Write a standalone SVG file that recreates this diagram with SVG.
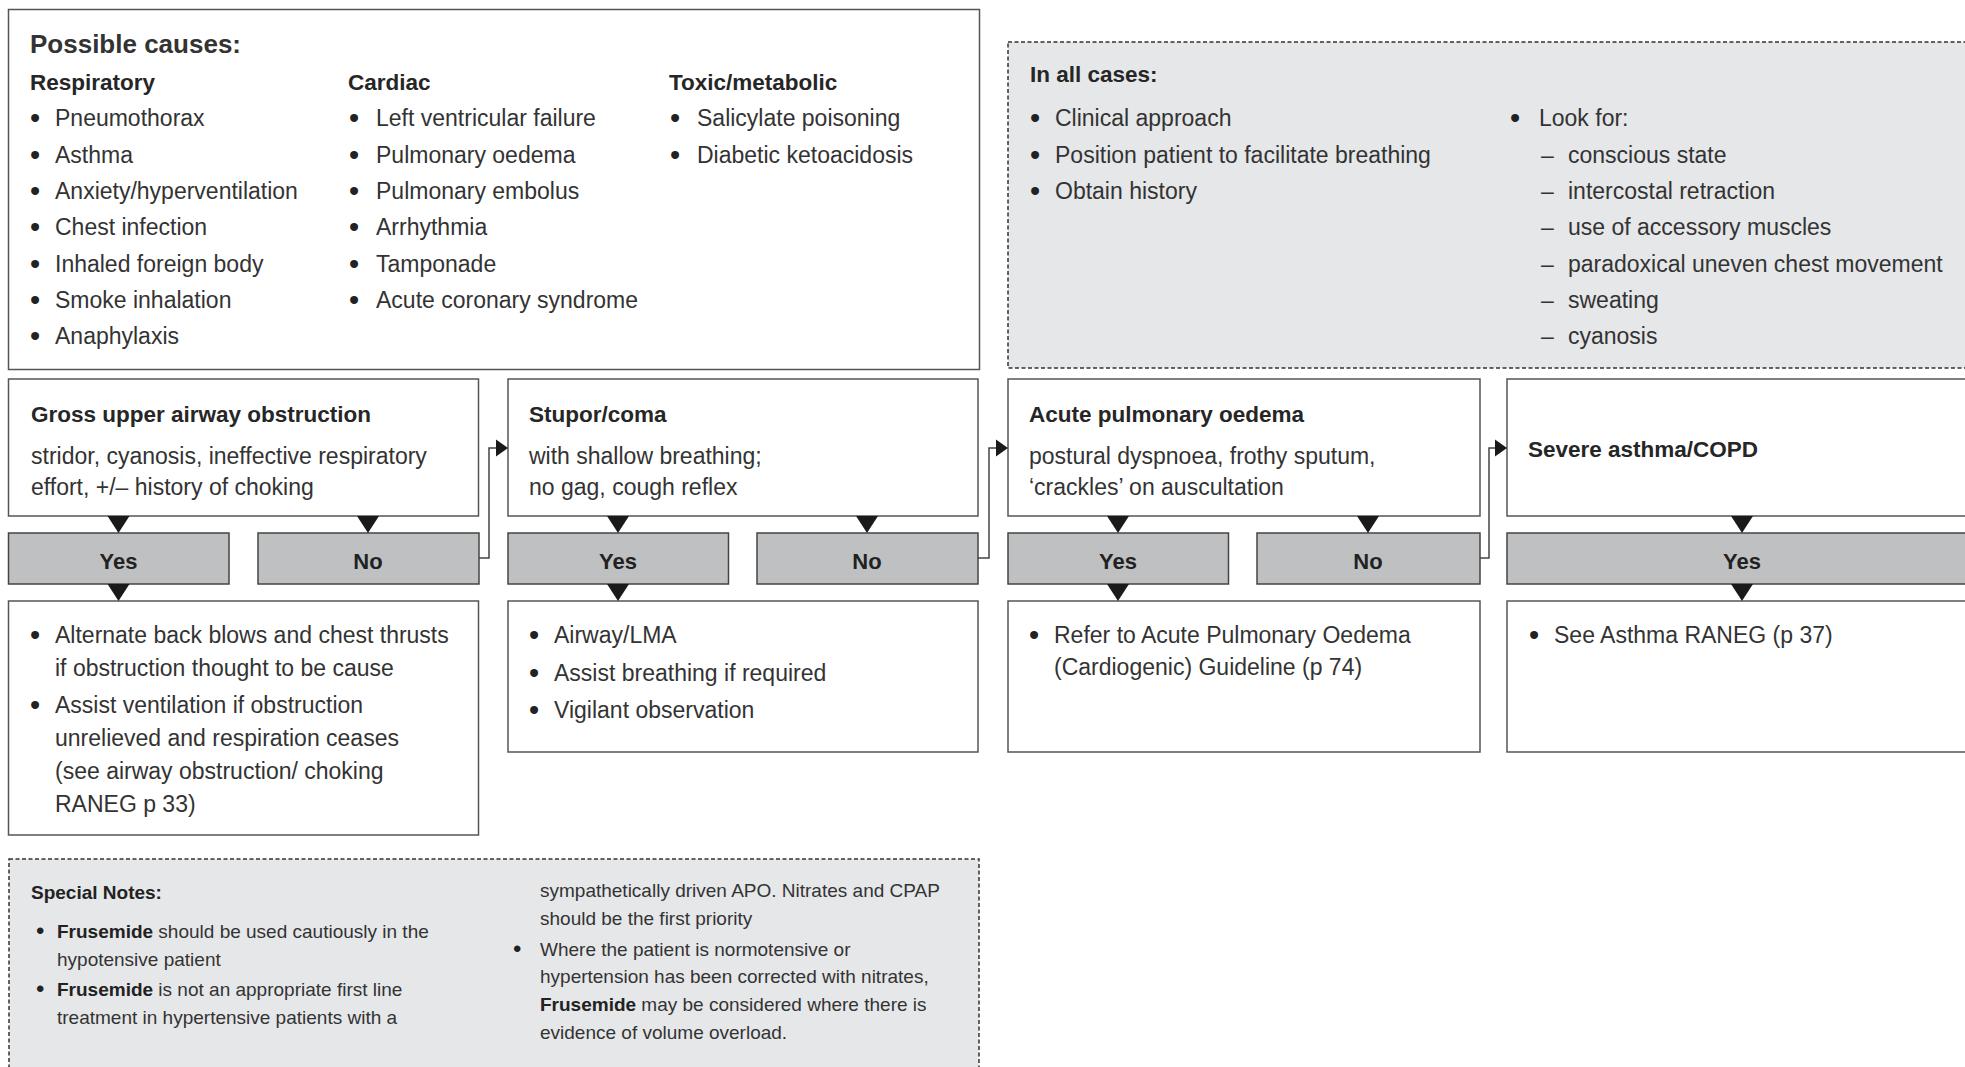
<svg xmlns="http://www.w3.org/2000/svg" xmlns:xlink="http://www.w3.org/1999/xlink" width="1965" height="1067" viewBox="0 0 1965 1067">
  <style>
    text { font-family: "Liberation Sans", Arial, Helvetica, sans-serif; fill: #333; }
    .box { fill: #ffffff; stroke: #555; stroke-width: 1.5; }
    .shade { fill: #e6e7e9; stroke: #333; stroke-width: 1.5; stroke-dasharray: 4 2.5; }
    .btn { fill: #bfc0c2; stroke: #444; stroke-width: 1.5; }
    .title { font-size: 26px; font-weight: bold; fill: #333; }
    .head { font-size: 22.5px; font-weight: bold; fill: #262626; }
    .body { font-size: 23px; }
    .bul { font-size: 29px; fill: #222; }
    .nbul { font-size: 24px; fill: #222; }
    .btnlabel { font-size: 22px; font-weight: bold; fill: #222; text-anchor: middle; }
    .note { font-size: 19px; }
    .notehead { font-size: 19px; font-weight: bold; fill: #222; }
    .conn { fill: none; stroke: #444; stroke-width: 1.5; }
    .arrow { fill: #1a1a1a; }
  </style>
  <defs>
    <path id="tri-down" d="M-11,0 L11,0 L0,17 Z"/>
    <path id="tri-right" d="M0,-8.5 L12,0 L0,8.5 Z"/>
  </defs>

  <rect width="1965" height="1067" fill="#ffffff"/>

  <!-- Possible causes -->
  <g id="causes">
    <rect class="box" x="8.5" y="9.5" width="971" height="360"/>
    <text class="title" x="30" y="53">Possible causes:</text>
    <text class="head" x="30" y="90">Respiratory</text>
    <text class="head" x="348" y="90">Cardiac</text>
    <text class="head" x="669" y="90">Toxic/metabolic</text>
    <text class="bul" x="30" y="128">•</text><text class="body" x="55" y="126">Pneumothorax</text>
    <text class="bul" x="30" y="164.5">•</text><text class="body" x="55" y="162.5">Asthma</text>
    <text class="bul" x="30" y="201">•</text><text class="body" x="55" y="199">Anxiety/hyperventilation</text>
    <text class="bul" x="30" y="237">•</text><text class="body" x="55" y="235">Chest infection</text>
    <text class="bul" x="30" y="274">•</text><text class="body" x="55" y="272">Inhaled foreign body</text>
    <text class="bul" x="30" y="310">•</text><text class="body" x="55" y="308">Smoke inhalation</text>
    <text class="bul" x="30" y="346">•</text><text class="body" x="55" y="344">Anaphylaxis</text>

    <text class="bul" x="349" y="128">•</text><text class="body" x="376" y="126">Left ventricular failure</text>
    <text class="bul" x="349" y="164.5">•</text><text class="body" x="376" y="162.5">Pulmonary oedema</text>
    <text class="bul" x="349" y="201">•</text><text class="body" x="376" y="199">Pulmonary embolus</text>
    <text class="bul" x="349" y="237">•</text><text class="body" x="376" y="235">Arrhythmia</text>
    <text class="bul" x="349" y="274">•</text><text class="body" x="376" y="272">Tamponade</text>
    <text class="bul" x="349" y="310">•</text><text class="body" x="376" y="308">Acute coronary syndrome</text>

    <text class="bul" x="670" y="128">•</text><text class="body" x="697" y="126">Salicylate poisoning</text>
    <text class="bul" x="670" y="164.5">•</text><text class="body" x="697" y="162.5">Diabetic ketoacidosis</text>
  </g>

  <!-- In all cases -->
  <g id="all-cases">
    <rect class="shade" x="1008" y="42" width="980" height="326"/>
    <text class="head" x="1030" y="82">In all cases:</text>
    <text class="bul" x="1030" y="128">•</text><text class="body" x="1055" y="126">Clinical approach</text>
    <text class="bul" x="1030" y="164.5">•</text><text class="body" x="1055" y="162.5">Position patient to facilitate breathing</text>
    <text class="bul" x="1030" y="201">•</text><text class="body" x="1055" y="199">Obtain history</text>
    <text class="bul" x="1510" y="128">•</text><text class="body" x="1539" y="126">Look for:</text>
    <text class="body" x="1541" y="162.5">–</text><text class="body" x="1568" y="162.5">conscious state</text>
    <text class="body" x="1541" y="199">–</text><text class="body" x="1568" y="199">intercostal retraction</text>
    <text class="body" x="1541" y="235">–</text><text class="body" x="1568" y="235">use of accessory muscles</text>
    <text class="body" x="1541" y="272">–</text><text class="body" x="1568" y="272">paradoxical uneven chest movement</text>
    <text class="body" x="1541" y="308">–</text><text class="body" x="1568" y="308">sweating</text>
    <text class="body" x="1541" y="344">–</text><text class="body" x="1568" y="344">cyanosis</text>
  </g>

  <!-- Presentation boxes -->
  <g id="gross-obstruction">
    <rect class="box" x="8.5" y="379" width="470" height="137"/>
    <text class="head" x="31" y="422">Gross upper airway obstruction</text>
    <text class="body" x="31" y="464">stridor, cyanosis, ineffective respiratory</text>
    <text class="body" x="31" y="495">effort, +/– history of choking</text>
  </g>
  <g id="stupor-coma">
    <rect class="box" x="508" y="379" width="470" height="137"/>
    <text class="head" x="529" y="422">Stupor/coma</text>
    <text class="body" x="529" y="464">with shallow breathing;</text>
    <text class="body" x="529" y="495">no gag, cough reflex</text>
  </g>
  <g id="acute-pulmonary-oedema">
    <rect class="box" x="1008" y="379" width="472" height="137"/>
    <text class="head" x="1029" y="422">Acute pulmonary oedema</text>
    <text class="body" x="1029" y="464">postural dyspnoea, frothy sputum,</text>
    <text class="body" x="1029" y="495">‘crackles’ on auscultation</text>
  </g>
  <g id="severe-asthma">
    <rect class="box" x="1507" y="379" width="480" height="137"/>
    <text class="head" x="1528" y="457">Severe asthma/COPD</text>
  </g>

  <!-- Yes / No answers -->
  <g id="yes-1"><rect class="btn" x="8.5" y="533" width="220.5" height="51"/><text class="btnlabel" x="118.5" y="569">Yes</text></g>
  <g id="no-1"><rect class="btn" x="258" y="533" width="221" height="51"/><text class="btnlabel" x="368" y="569">No</text></g>
  <g id="yes-2"><rect class="btn" x="508" y="533" width="220.5" height="51"/><text class="btnlabel" x="618" y="569">Yes</text></g>
  <g id="no-2"><rect class="btn" x="757" y="533" width="221" height="51"/><text class="btnlabel" x="867" y="569">No</text></g>
  <g id="yes-3"><rect class="btn" x="1008" y="533" width="220.5" height="51"/><text class="btnlabel" x="1118" y="569">Yes</text></g>
  <g id="no-3"><rect class="btn" x="1257" y="533" width="223" height="51"/><text class="btnlabel" x="1368" y="569">No</text></g>
  <g id="yes-4"><rect class="btn" x="1507" y="533" width="480" height="51"/><text class="btnlabel" x="1742" y="569">Yes</text></g>

  <!-- Actions -->
  <g id="action-obstruction">
    <rect class="box" x="8.5" y="601" width="470" height="234"/>
    <text class="bul" x="30" y="645">•</text><text class="body" x="55" y="643">Alternate back blows and chest thrusts</text>
    <text class="body" x="55" y="676">if obstruction thought to be cause</text>
    <text class="bul" x="30" y="715">•</text><text class="body" x="55" y="713">Assist ventilation if obstruction</text>
    <text class="body" x="55" y="746">unrelieved and respiration ceases</text>
    <text class="body" x="55" y="779">(see airway obstruction/ choking</text>
    <text class="body" x="55" y="812">RANEG p 33)</text>
  </g>
  <g id="action-stupor">
    <rect class="box" x="508" y="601" width="470" height="151"/>
    <text class="bul" x="529" y="645">•</text><text class="body" x="554" y="643">Airway/LMA</text>
    <text class="bul" x="529" y="683">•</text><text class="body" x="554" y="681">Assist breathing if required</text>
    <text class="bul" x="529" y="720">•</text><text class="body" x="554" y="718">Vigilant observation</text>
  </g>
  <g id="action-apo">
    <rect class="box" x="1008" y="601" width="472" height="151"/>
    <text class="bul" x="1029" y="645">•</text><text class="body" x="1054" y="643">Refer to Acute Pulmonary Oedema</text>
    <text class="body" x="1054" y="675">(Cardiogenic) Guideline (p 74)</text>
  </g>
  <g id="action-asthma">
    <rect class="box" x="1507" y="601" width="480" height="151"/>
    <text class="bul" x="1529" y="645">•</text><text class="body" x="1554" y="643">See Asthma RANEG (p 37)</text>
  </g>

  <!-- Special notes -->
  <g id="special-notes">
    <rect class="shade" x="9" y="859" width="970" height="230"/>
    <text class="notehead" x="31" y="899">Special Notes:</text>
    <text class="nbul" x="36" y="939">•</text><text class="note" x="57" y="938"><tspan font-weight="bold" fill="#222">Frusemide</tspan> should be used cautiously in the</text>
    <text class="note" x="57" y="966">hypotensive patient</text>
    <text class="nbul" x="36" y="997">•</text><text class="note" x="57" y="996"><tspan font-weight="bold" fill="#222">Frusemide</tspan> is not an appropriate first line</text>
    <text class="note" x="57" y="1024">treatment in hypertensive patients with a</text>
    <text class="note" x="540" y="897">sympathetically driven APO. Nitrates and CPAP</text>
    <text class="note" x="540" y="925">should be the first priority</text>
    <text class="nbul" x="513" y="957">•</text><text class="note" x="540" y="956">Where the patient is normotensive or</text>
    <text class="note" x="540" y="983">hypertension has been corrected with nitrates,</text>
    <text class="note" x="540" y="1011"><tspan font-weight="bold" fill="#222">Frusemide</tspan> may be considered where there is</text>
    <text class="note" x="540" y="1039">evidence of volume overload.</text>
  </g>

  <!-- Connectors -->
  <g id="connectors">
    <path class="conn" d="M479,558 H489 V448 H497"/>
    <path class="conn" d="M978,558 H989 V448 H997"/>
    <path class="conn" d="M1480,558 H1489 V448 H1496"/>
    <g class="arrow">
      <use xlink:href="#tri-right" x="496" y="448"/>
      <use xlink:href="#tri-right" x="996" y="448"/>
      <use xlink:href="#tri-right" x="1495" y="448"/>

      <use xlink:href="#tri-down" x="118.5" y="516"/>
      <use xlink:href="#tri-down" x="368" y="516"/>
      <use xlink:href="#tri-down" x="618" y="516"/>
      <use xlink:href="#tri-down" x="867" y="516"/>
      <use xlink:href="#tri-down" x="1118" y="516"/>
      <use xlink:href="#tri-down" x="1368" y="516"/>
      <use xlink:href="#tri-down" x="1742" y="516"/>

      <use xlink:href="#tri-down" x="118.5" y="584"/>
      <use xlink:href="#tri-down" x="618" y="584"/>
      <use xlink:href="#tri-down" x="1118" y="584"/>
      <use xlink:href="#tri-down" x="1742" y="584"/>
    </g>
  </g>
</svg>
